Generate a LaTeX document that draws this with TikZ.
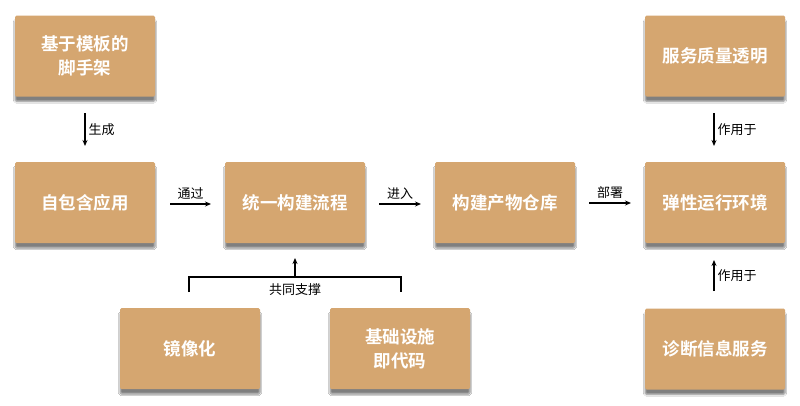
\documentclass[tikz,border=0pt]{standalone}
\usepackage{fontspec}
\newfontfamily\cjk{Noto Sans CJK SC}
\newfontfamily\cjkb{Noto Sans CJK SC Bold}
\usetikzlibrary{shadows.blur,arrows.meta}
\definecolor{boxtan}{RGB}{213,166,112}
\tikzset{
  card/.style={fill=boxtan, draw=none, minimum width=140pt, minimum height=81pt,
    text=white, font=\cjkb\fontsize{17.5}{24}\selectfont, align=center, inner sep=0pt,
    rounded corners=1.5pt,
    blur shadow={shadow xshift=0pt, shadow yshift=-5pt, shadow blur steps=6, shadow opacity=50, shadow blur extra rounding=1pt}},
  conn/.style={-{Stealth[length=6pt,width=5pt]}, line width=1.1pt, black},
  lbl/.style={font=\cjk\fontsize{13}{15}\selectfont, text=black, inner sep=1pt}
}
\begin{document}
\begin{tikzpicture}[x=1pt,y=-1pt]
\useasboundingbox[fill=white] (0,0) rectangle (800,405);
\node[card] (scaf) at (85,56) {基于模板的\\脚手架};
\node[card] (app) at (85,202.5) {自包含应用};
\node[card] (build) at (295,202.5) {统一构建流程};
\node[card] (repo) at (505,202.5) {构建产物仓库};
\node[card] (env) at (715,202.5) {弹性运行环境};
\node[card] (qos) at (715,56) {服务质量透明};
\node[card] (diag) at (715,349) {诊断信息服务};
\node[card] (img) at (190,348.5) {镜像化};
\node[card] (iac) at (400,348.5) {基础设施\\即代码};

\coordinate (a1s) at (85,113); \coordinate (a1e) at (85,146);
\draw[conn] (a1s) -- node[lbl, right=2pt] {生成} (a1e);

\coordinate (a2s) at (170,204); \coordinate (a2e) at (211,204);
\draw[conn] (a2s) -- node[lbl, above=3pt] {通过} (a2e);
\coordinate (a3s) at (379,204); \coordinate (a3e) at (421,204);
\draw[conn] (a3s) -- node[lbl, above=3pt] {进入} (a3e);
\coordinate (a4s) at (589,203); \coordinate (a4e) at (631,203);
\draw[conn] (a4s) -- node[lbl, above=3pt] {部署} (a4e);

\coordinate (a5s) at (714,113); \coordinate (a5e) at (714,146);
\draw[conn] (a5s) -- node[lbl, right=2pt] {作用于} (a5e);
\coordinate (a6s) at (714,291); \coordinate (a6e) at (714,260);
\draw[conn] (a6s) -- node[lbl, right=2pt] {作用于} (a6e);

\coordinate (bl) at (189,292); \coordinate (br) at (401,292);
\coordinate (bt) at (295,277); \coordinate (btop) at (295,258);
\draw[line width=1.1pt] (bl) |- (bt) -| (br);
\draw[conn] (bt) -- (btop);
\node[lbl] (sup) at (295,290) {共同支撑};
\end{tikzpicture}
\end{document}
